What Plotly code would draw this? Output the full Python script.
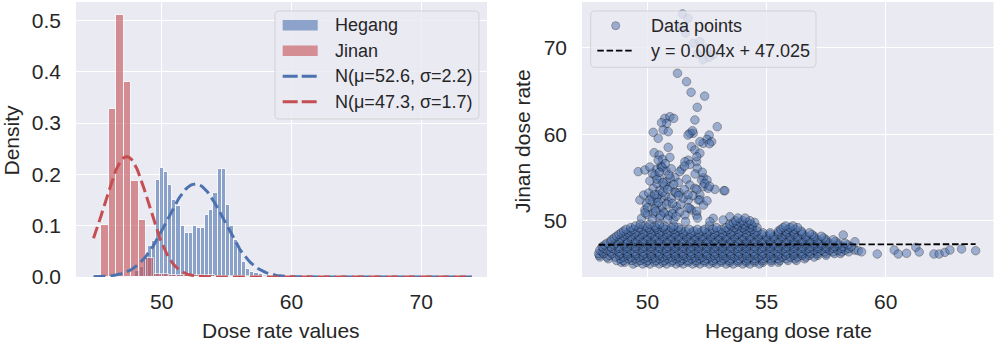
import numpy as np
import plotly.graph_objects as go

# ---------------- data ----------------
# histograms (density, 50 bins each)
hegang_min = 47.97
hegang_bin_width = 0.3166
hegang_density = [0.012, 0.02, 0.04, 0.06, 0.07, 0.19, 0.213, 0.205, 0.18, 0.15,
                  0.138, 0.10, 0.085, 0.085, 0.10, 0.095, 0.095, 0.12, 0.13, 0.163,
                  0.21, 0.21, 0.14, 0.10, 0.073, 0.057, 0.03, 0.015, 0.01, 0.008,
                  0.005, 0.004, 0.003, 0.002, 0.002, 0.0, 0.001, 0.0, 0.0, 0.001,
                  0.001, 0.0, 0.001, 0.0, 0.001, 0.001, 0.001, 0.0, 0.001, 0.001]

jinan_min = 44.74
jinan_bin_width = 0.5832
jinan_density = [0.003, 0.101, 0.327, 0.511, 0.380, 0.187, 0.111, 0.038, 0.006, 0.005,
                 0.004, 0.004, 0.004, 0.003, 0.003, 0.003, 0.002, 0.002, 0.002, 0.002,
                 0.002, 0.001, 0.001, 0.001, 0.001, 0.001, 0.001, 0.001, 0.001, 0.0005,
                 0.0005, 0.0005, 0.0005, 0.0005, 0.0, 0.0, 0.0005, 0.0005, 0.0, 0.0005,
                 0.0005, 0.0, 0.0, 0.0005, 0.0005, 0.0, 0.0, 0.0005, 0.0, 0.0005]

# fitted normal curves (from the legend)
hegang_mu, hegang_sigma = 52.6, 2.2
jinan_mu, jinan_sigma = 47.3, 1.7
curve_x_min, curve_x_max = 44.74, 73.9

# scatter: dense band, one row of Hegang values per Jinan level
band_y = [45.0, 45.2, 45.4, 45.6, 45.8, 46.0, 46.2, 46.4, 46.6, 46.8, 47.0, 47.2, 47.4, 47.6,
          47.8, 48.0, 48.2, 48.4, 48.6, 48.8, 49.0, 49.2, 49.4, 49.6, 49.8, 50.0, 50.3]
band_x = [
    [49.4, 49.8, 50.1, 50.5, 50.8, 51.2, 51.5, 51.9, 52.2, 52.6, 52.9, 53.3, 53.6, 54.0, 54.3, 54.7],
    [48.9, 49.05, 49.55, 49.95, 50.3, 50.65, 51.0, 51.35, 51.7, 52.05, 52.4, 52.75, 53.1, 53.45,
     53.8, 54.15, 54.5, 54.85, 55.2, 55.5],
    [48.7, 49.0, 49.35, 49.7, 50.0, 50.35, 50.7, 51.05, 51.4, 51.7, 52.05, 52.4, 52.75, 53.1, 53.45,
     53.8, 54.15, 54.5, 54.85, 55.2, 55.55, 55.9, 56.25],
    [48.35, 48.85, 49.2, 49.5, 49.85, 50.2, 50.5, 50.85, 51.2, 51.5, 51.85, 52.2, 52.5, 52.85,
     53.2, 53.5, 53.85, 54.2, 54.5, 54.85, 55.2, 55.5, 55.85, 56.2, 56.6],
    [48.0, 48.3, 48.65, 49.0, 49.3, 49.65, 50.0, 50.3, 50.65, 51.0, 51.3, 51.65, 52.0, 52.3, 52.65,
     53.0, 53.3, 53.65, 54.0, 54.3, 54.65, 55.0, 55.3, 55.65, 56.0, 56.3, 56.65, 57.0],
    [47.98, 48.4, 48.8, 49.15, 49.5, 49.8, 50.15, 50.5, 50.8, 51.15, 51.5, 51.8, 52.15, 52.5,
     52.8, 53.15, 53.5, 53.8, 54.15, 54.5, 54.8, 55.15, 55.5, 55.8, 56.15, 56.5, 56.8, 57.15, 57.5],
    [47.95, 48.15, 48.5, 48.85, 49.15, 49.5, 49.85, 50.15, 50.5, 50.85, 51.15, 51.5, 51.85, 52.15,
     52.5, 52.85, 53.15, 53.5, 53.85, 54.15, 54.5, 54.85, 55.15, 55.5, 55.85, 56.15, 56.5, 56.85,
     57.15, 57.5, 57.85, 58.1],
    [48.1, 48.45, 48.8, 49.15, 49.45, 49.8, 50.15, 50.45, 50.8, 51.15, 51.45, 51.8, 52.15, 52.45,
     52.8, 53.15, 53.45, 53.8, 54.15, 54.45, 54.8, 55.15, 55.45, 55.8, 56.15, 56.45, 56.8, 57.15,
     57.45, 57.8, 58.15, 58.45],
    [48.0, 48.3, 48.65, 49.0, 49.3, 49.65, 50.0, 50.3, 50.65, 51.0, 51.3, 51.65, 52.0, 52.3, 52.65,
     53.0, 53.3, 53.65, 54.0, 54.3, 54.65, 55.0, 55.3, 55.65, 56.0, 56.3, 56.65, 57.0, 57.3, 57.65,
     58.0, 58.3, 58.7],
    [48.15, 48.5, 48.8, 49.15, 49.5, 49.8, 50.15, 50.5, 50.8, 51.15, 51.5, 51.8, 52.15, 52.5, 52.8,
     53.15, 53.5, 53.8, 54.15, 54.5, 54.8, 55.15, 55.5, 55.8, 56.15, 56.5, 56.8, 57.15, 57.5, 57.8,
     58.15, 58.45],
    [48.1, 48.45, 48.8, 49.15, 49.5, 49.85, 50.15, 50.5, 50.85, 51.15, 51.5, 51.85, 52.15, 52.5,
     52.85, 53.15, 53.5, 53.85, 54.15, 54.5, 54.85, 55.15, 55.5, 55.85, 56.15, 56.5, 56.85, 57.15,
     57.5, 57.85, 58.2, 58.55],
    [48.2, 48.6, 49.0, 49.3, 49.65, 50.0, 50.3, 50.65, 51.0, 51.3, 51.65, 52.0, 52.3, 52.65, 53.0,
     53.3, 53.65, 54.0, 54.3, 54.65, 55.0, 55.3, 55.65, 56.0, 56.3, 56.65, 57.0, 57.3, 57.65, 58.0, 58.4],
    [48.3, 48.65, 49.0, 49.3, 49.65, 50.0, 50.3, 50.65, 51.0, 51.3, 51.65, 52.0, 52.3, 52.65, 53.0,
     53.3, 53.65, 54.0, 54.3, 54.65, 55.0, 55.3, 55.65, 56.0, 56.3, 56.65, 57.0, 57.3, 57.65, 58.0, 58.3],
    [48.45, 48.8, 49.15, 49.5, 49.8, 50.15, 50.5, 50.8, 51.15, 51.5, 51.8, 52.15, 52.5, 52.8, 53.15,
     53.5, 53.8, 54.15, 54.5, 54.8, 55.15, 55.5, 55.8, 56.15, 56.5, 56.8, 57.15, 57.5, 57.9],
    [48.5, 48.85, 49.15, 49.5, 49.85, 50.15, 50.5, 50.85, 51.15, 51.5, 51.85, 52.15, 52.5, 52.85,
     53.15, 53.5, 53.85, 54.15, 54.5, 54.85, 55.15, 55.5, 55.85, 56.15, 56.5, 56.85, 57.15, 57.5, 57.8],
    [48.6, 48.9, 49.3, 49.65, 50.0, 50.3, 50.65, 51.0, 51.3, 51.65, 52.0, 52.3, 52.65, 53.0, 53.3,
     53.65, 54.0, 54.3, 54.65, 55.0, 55.3, 55.65, 56.0, 56.3, 56.65, 57.0, 57.4],
    [48.7, 49.0, 49.3, 49.65, 50.0, 50.3, 50.65, 51.0, 51.3, 51.65, 52.0, 52.3, 52.65, 53.0, 53.3,
     53.65, 54.0, 54.3, 54.65, 55.0, 55.3, 55.65, 56.0, 56.3, 56.65, 57.0, 57.3],
    [48.8, 49.1, 49.45, 49.8, 50.15, 50.5, 50.8, 51.15, 51.5, 51.8, 52.15, 52.5, 52.8, 53.15, 53.5,
     53.8, 54.15, 54.5, 54.8, 55.15, 55.5, 55.8, 56.15, 56.5, 56.9],
    [48.9, 49.2, 49.5, 49.85, 50.15, 50.5, 50.85, 51.15, 51.5, 51.85, 52.15, 52.5, 52.85, 53.15,
     53.5, 53.85, 54.15, 54.5, 54.85, 55.15, 55.5, 55.85, 56.15, 56.5, 56.8],
    [49.0, 49.3, 49.6, 49.95, 50.3, 50.6, 50.95, 51.3, 51.6, 51.95, 52.3, 52.6, 52.95, 53.3, 53.6,
     53.95, 54.3, 54.6, 55.5, 55.8, 56.1, 56.45],
    [49.1, 49.4, 49.75, 50.1, 50.4, 50.75, 51.1, 51.4, 51.75, 52.1, 52.4, 52.75, 53.1, 53.4, 53.75,
     54.1, 54.4, 55.6, 55.9, 56.2],
    [49.3, 49.65, 50.0, 50.35, 50.65, 51.0, 51.3, 52.9, 53.3, 53.65, 54.0, 54.3, 54.6, 55.7, 56.0, 56.3],
    [49.5, 49.9, 50.3, 50.7, 51.1, 52.6, 53.5, 53.8, 54.1, 54.4, 55.8, 56.1],
    [49.7, 50.1, 50.5, 53.45, 53.75, 54.05, 54.35],
    [53.6, 53.9, 54.2, 54.5],
    [53.7, 54.0, 54.3],
    [53.8, 54.1],
]

# scatter: scattered points above the band (the two plumes)
plume_x = [51.47, 51.70, 51.45, 51.60, 51.92, 52.20, 52.10, 52.50, 52.34, 52.76, 52.60,
           51.26, 51.64, 51.83, 52.40, 52.09, 51.99, 52.93, 51.92, 51.78, 51.89, 51.70,
           50.73, 50.94, 51.10, 50.80, 50.59, 50.66, 50.87, 50.24, 50.45,
           52.59, 52.50, 52.69, 52.34, 52.20, 51.85, 51.99, 52.20, 52.06, 52.09, 51.71,
           51.57, 51.43, 51.36, 51.15, 52.60, 51.78, 52.07, 52.35, 51.64, 51.55,
           50.87, 50.28, 50.49, 50.63, 50.94, 50.59, 50.38, 50.77, 50.31, 50.52, 50.80,
           49.61, 49.89, 50.57, 50.62,
           51.78, 51.99, 52.27, 52.50, 52.34, 52.83, 53.21, 52.20, 52.13, 52.55, 52.40,
           52.60, 52.07, 53.25, 52.20,
           50.24, 50.52, 50.94, 51.15, 51.33, 50.17, 50.59, 49.68, 49.96, 50.38, 50.87,
           51.22, 51.71, 51.85, 49.89, 50.24, 50.66, 51.08, 51.57, 49.75, 52.06, 52.76,
           52.62, 53.18, 53.46, 50.40, 50.70, 50.10, 50.45, 50.75, 51.00, 50.20, 50.60,
           50.90, 50.30, 51.40, 50.00, 50.50, 51.10, 51.60, 49.84, 50.38, 51.78, 51.20,
           51.50, 51.70, 52.07, 52.10, 58.22, 58.71,
           50.05, 50.30, 50.65, 50.85, 50.10, 50.45, 50.80, 51.05, 50.00, 50.35, 50.70,
           51.05, 51.35, 49.90, 50.20, 50.55, 50.85, 51.20, 50.40, 50.65, 50.95, 50.20,
           50.90, 50.50, 51.30, 51.00, 50.75, 50.45, 51.30, 51.55, 51.10, 50.10,
           52.00, 52.30, 51.90, 52.35, 52.50, 51.70]
plume_y = [73.9, 73.4, 72.4, 71.7, 70.5, 70.7, 69.3, 69.9, 68.6, 69.2, 68.9,
           67.04, 66.07, 64.84, 64.4, 63.1, 61.64, 60.87, 60.1, 60.1, 60.4, 59.9,
           61.83, 62.02, 61.83, 61.25, 61.33, 60.48, 60.29, 60.21, 59.52,
           59.9, 59.4, 59.13, 58.94, 59.13, 58.55, 58.17, 57.8, 56.82, 56.05, 57.0,
           56.82, 55.94, 55.67, 55.0, 58.9, 56.5, 57.4, 54.97, 54.8, 56.3,
           58.48, 57.86, 57.59, 57.09, 57.32, 56.24, 55.94, 55.78, 55.28, 54.9, 54.5,
           55.67, 55.86, 56.3, 56.15,
           54.12, 53.74, 54.7, 54.7, 53.93, 53.62, 53.47, 52.97, 52.39, 53.74, 54.3,
           54.0, 53.6, 53.47, 52.4,
           53.74, 53.55, 53.93, 53.35, 53.24, 52.77, 52.58, 52.39, 52.0, 51.81, 52.2,
           51.62, 52.39, 51.23, 51.23, 50.85, 51.04, 51.23, 50.65, 50.27, 50.65, 50.27,
           49.9, 50.08, 50.46, 54.3, 54.0, 54.6, 53.0, 52.9, 52.6, 52.2, 51.6,
           50.6, 51.4, 51.9, 50.7, 50.3, 50.1, 49.9, 52.97, 52.6, 51.43, 53.2,
           52.6, 51.5, 51.1, 50.3, 48.35, 47.57,
           53.2, 53.0, 53.3, 53.6, 52.4, 52.1, 51.9, 52.0, 51.5, 51.1, 50.9,
           50.8, 51.0, 50.9, 50.2, 50.6, 50.2, 50.5, 54.8, 54.4, 54.9, 55.5,
           55.3, 55.6, 54.4, 56.0, 56.6, 57.0, 52.9, 53.6, 54.2, 56.2,
           55.4, 55.6, 52.9, 51.8, 52.3, 53.0]

# scatter: sparse tail of high Hegang values
tail_x = [58.85, 58.99, 59.65, 60.36, 60.53, 60.88, 61.27, 61.41, 62.03, 62.25, 62.49, 62.70, 63.19, 63.78]
tail_y = [46.53, 46.40, 46.15, 46.60, 46.15, 46.23, 46.92, 46.38, 46.15, 46.15, 46.34, 46.61, 46.73, 46.53]

# least-squares line (from the legend)
fit_slope, fit_intercept = 0.004, 47.025

# ---------------- styling ----------------
BLUE = "#4C72B0"
RED = "#C44E52"
TEXT = "#262626"
FONT = "Liberation Sans, Arial, sans-serif"
W, H = 996, 343


def fx(p):
    return p / W


def fy(p):
    return 1 - p / H


def normal_pdf(x, mu, sigma):
    return np.exp(-0.5 * ((x - mu) / sigma) ** 2) / (sigma * np.sqrt(2 * np.pi))


hegang_centers = [hegang_min + (i + 0.5) * hegang_bin_width for i in range(len(hegang_density))]
jinan_centers = [jinan_min + (i + 0.5) * jinan_bin_width for i in range(len(jinan_density))]
curve_x = np.linspace(curve_x_min, curve_x_max, 300)

scatter_x, scatter_y = [], []
for yv, row in zip(band_y, band_x):
    scatter_x += row
    scatter_y += [yv] * len(row)
scatter_x += plume_x + tail_x
scatter_y += plume_y + tail_y

fit_x = np.array([min(scatter_x), max(scatter_x)])
fit_y = fit_slope * fit_x + fit_intercept

fig = go.Figure()

# left panel: histograms + normal fits
fig.add_trace(go.Bar(x=hegang_centers, y=hegang_density, width=hegang_bin_width,
                     marker=dict(color=BLUE, line=dict(color="white", width=1)),
                     opacity=0.6, name="Hegang", xaxis="x", yaxis="y"))
fig.add_trace(go.Bar(x=jinan_centers, y=jinan_density, width=jinan_bin_width,
                     marker=dict(color=RED, line=dict(color="white", width=1)),
                     opacity=0.6, name="Jinan", xaxis="x", yaxis="y"))
fig.add_trace(go.Scatter(x=curve_x, y=normal_pdf(curve_x, hegang_mu, hegang_sigma), mode="lines",
                         line=dict(color=BLUE, width=3, dash="12px,5px"),
                         name="N(μ=52.6, σ=2.2)", xaxis="x", yaxis="y"))
fig.add_trace(go.Scatter(x=curve_x, y=normal_pdf(curve_x, jinan_mu, jinan_sigma), mode="lines",
                         line=dict(color=RED, width=3, dash="12px,5px"),
                         name="N(μ=47.3, σ=1.7)", xaxis="x", yaxis="y"))

# right panel: scatter + fitted line
fig.add_trace(go.Scatter(x=scatter_x, y=scatter_y, mode="markers",
                         marker=dict(size=8.5, color=BLUE, opacity=0.5,
                                     line=dict(color="black", width=0.7)),
                         name="Data points", xaxis="x2", yaxis="y2"))
fig.add_trace(go.Scatter(x=fit_x, y=fit_y, mode="lines",
                         line=dict(color="black", width=1.8, dash="6.5px,2.8px"),
                         name="y = 0.004x + 47.025", xaxis="x2", yaxis="y2"))

axis_common = dict(showgrid=True, gridcolor="white", gridwidth=1.2, zeroline=False,
                   showline=False, ticks="", automargin=False,
                   tickfont=dict(size=21, color=TEXT, family=FONT))

fig.update_layout(
    width=W, height=H,
    margin=dict(l=0, r=0, t=0, b=0),
    paper_bgcolor="white", plot_bgcolor="#EAEAF2",
    barmode="overlay", bargap=0, showlegend=False,
    font=dict(family=FONT, color=TEXT),
    xaxis=dict(domain=[fx(76), fx(487)], range=[43.39, 75.08], tickvals=[50, 60, 70],
               anchor="y", ticklabelstandoff=10, **axis_common),
    yaxis=dict(domain=[fy(277), fy(2)], range=[0, 0.536],
               tickvals=[0, 0.1, 0.2, 0.3, 0.4, 0.5],
               ticktext=["0.0", "0.1", "0.2", "0.3", "0.4", "0.5"],
               anchor="x", ticklabelstandoff=14, **axis_common),
    xaxis2=dict(domain=[fx(582), fx(993.5)], range=[47.25, 64.53], tickvals=[50, 55, 60],
                anchor="y2", ticklabelstandoff=10, **axis_common),
    yaxis2=dict(domain=[fy(277), fy(2)], range=[43.49, 75.28], tickvals=[50, 60, 70],
                anchor="x2", ticklabelstandoff=14, **axis_common),
)

# axis titles
title_font = dict(size=21, color=TEXT, family=FONT)
for text, x, y, angle in [("Density", 10.5, 140, -90), ("Dose rate values", 281, 330, 0),
                          ("Jinan dose rate", 522, 141, -90), ("Hegang dose rate", 788, 330, 0)]:
    fig.add_annotation(text=text, x=fx(x), y=fy(y), xref="paper", yref="paper",
                       xanchor="center", yanchor="middle", textangle=angle,
                       showarrow=False, font=title_font)


def rounded_box(x0, y0, x1, y1, r=4):
    pts = [("M", x0 + r, y0), ("L", x1 - r, y0), ("Q", x1, y0, x1, y0 + r), ("L", x1, y1 - r),
           ("Q", x1, y1, x1 - r, y1), ("L", x0 + r, y1), ("Q", x0, y1, x0, y1 - r),
           ("L", x0, y0 + r), ("Q", x0, y0, x0 + r, y0)]
    path = ""
    for p in pts:
        coords = p[1:]
        segs = ["%f,%f" % (fx(coords[i]), fy(coords[i + 1])) for i in range(0, len(coords), 2)]
        path += p[0] + " " + " ".join(segs) + " "
    return path + "Z"


legend_fill = "rgba(234,234,242,0.8)"
legend_edge = "rgba(204,204,204,0.8)"
leg_font = dict(size=18, color=TEXT, family=FONT)

# left legend
fig.add_shape(type="path", path=rounded_box(275, 11, 479, 119), xref="paper", yref="paper",
              fillcolor=legend_fill, line=dict(color=legend_edge, width=1), layer="above")
for label, color, yc in [("Hegang", BLUE, 25.3), ("Jinan", RED, 50.8)]:
    fig.add_shape(type="rect", x0=fx(282.7), x1=fx(317.7), y0=fy(yc - 5.3), y1=fy(yc + 5.3),
                  xref="paper", yref="paper", fillcolor=color, opacity=0.6,
                  line=dict(width=0), layer="above")
    fig.add_annotation(text=label, x=fx(333), y=fy(yc), xref="paper", yref="paper",
                       xanchor="left", yanchor="middle", showarrow=False, font=leg_font)
for label, color, yc in [("N(μ=52.6, σ=2.2)", BLUE, 76.3), ("N(μ=47.3, σ=1.7)", RED, 101.7)]:
    fig.add_shape(type="line", x0=fx(282.7), x1=fx(317.7), y0=fy(yc), y1=fy(yc),
                  xref="paper", yref="paper", line=dict(color=color, width=3, dash="15px,4px"),
                  layer="above")
    fig.add_annotation(text=label, x=fx(333), y=fy(yc), xref="paper", yref="paper",
                       xanchor="left", yanchor="middle", showarrow=False, font=leg_font)

# right legend
fig.add_shape(type="path", path=rounded_box(590.7, 11, 816, 67.3), xref="paper", yref="paper",
              fillcolor=legend_fill, line=dict(color=legend_edge, width=1), layer="above")
fig.add_shape(type="circle", x0=fx(611.7), x1=fx(619.7), y0=fy(21.7), y1=fy(29.7),
              xref="paper", yref="paper", fillcolor=BLUE, opacity=0.5,
              line=dict(color="black", width=0.7), layer="above")
fig.add_annotation(text="Data points", x=fx(649), y=fy(25.7), xref="paper", yref="paper",
                   xanchor="left", yanchor="middle", showarrow=False, font=leg_font)
fig.add_shape(type="line", x0=fx(597.3), x1=fx(633.3), y0=fy(50.7), y1=fy(50.7),
              xref="paper", yref="paper", line=dict(color="black", width=1.8, dash="6.5px,2.8px"),
              layer="above")
fig.add_annotation(text="y = 0.004x + 47.025", x=fx(649), y=fy(50.7), xref="paper", yref="paper",
                   xanchor="left", yanchor="middle", showarrow=False, font=leg_font)

# the page's default body margin would shift the figure by 8 px
fig.write_html("out.html", config={"displayModeBar": False},
               post_script="document.body.style.margin='0px';")
